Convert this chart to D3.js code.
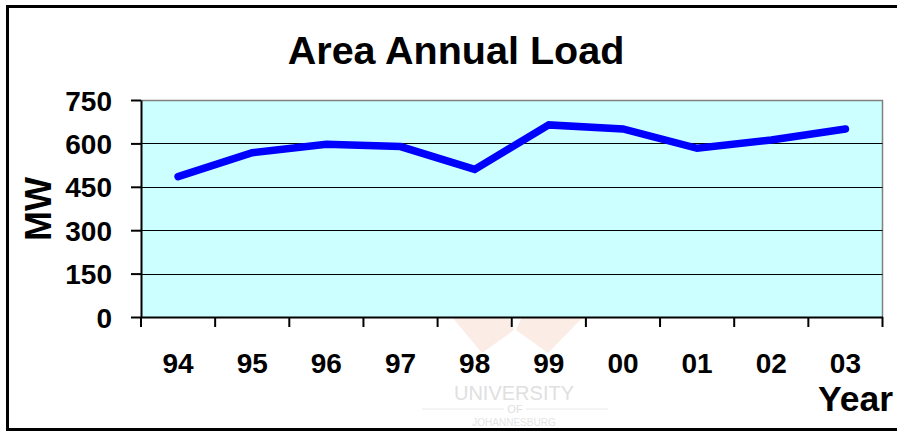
<!DOCTYPE html>
<html>
<head>
<meta charset="utf-8">
<script src="https://cdn.jsdelivr.net/npm/d3@7"></script>
<style>
  html, body { margin: 0; padding: 0; background: #fff; }
  svg { display: block; }
  text { font-family: "Liberation Sans", Arial, sans-serif; }
</style>
</head>
<body>
<svg id="chart" width="897" height="432"></svg>
<script>
const categories = ["94", "95", "96", "97", "98", "99", "00", "01", "02", "03"];
const loadMW = [485, 568, 597, 589, 510, 664, 650, 583, 612, 650];
const yTicks = [0, 150, 300, 450, 600, 750];
const gridValues = [150, 300, 450, 600];
const titleText = "Area Annual Load";
const yAxisTitle = "MW";
const xAxisTitle = "Year";

const svg = d3.select("#chart");
const W = 897, H = 432;
const plot = { left: 141, right: 882.5, top: 100, bottom: 317 };

svg.append("rect").attr("width", W).attr("height", H).attr("fill", "#fff");

// watermark (faint)
const wm = svg.append("g").attr("class", "watermark");
wm.append("path").attr("d", "M452,317 L508,317 L514,330 L482,353 Z").attr("fill", "#fbece5");
wm.append("path").attr("d", "M583,317 L522,317 L516,330 L548,353 Z").attr("fill", "#fbece5");
wm.append("text").attr("x", 514).attr("y", 400).attr("text-anchor", "middle")
  .attr("font-size", 20).attr("fill", "#e0e0e0").text("UNIVERSITY");
wm.append("line").attr("x1", 422).attr("x2", 504).attr("y1", 409).attr("y2", 409).attr("stroke", "#e8e8e8");
wm.append("line").attr("x1", 526).attr("x2", 608).attr("y1", 409).attr("y2", 409).attr("stroke", "#e8e8e8");
wm.append("text").attr("x", 515).attr("y", 413).attr("text-anchor", "middle")
  .attr("font-size", 11).attr("fill", "#e0e0e0").text("OF");
wm.append("text").attr("x", 514).attr("y", 426).attr("text-anchor", "middle")
  .attr("font-size", 10).attr("fill", "#e4e4e4").text("JOHANNESBURG");

// outer border
svg.append("rect").attr("x", 7.5).attr("y", 6.5).attr("width", 920).attr("height", 423)
  .attr("fill", "none").attr("stroke", "#000").attr("stroke-width", 3);

const x = d3.scaleBand().domain(categories).range([plot.left, plot.right]);
const y = d3.scaleLinear().domain([0, 750]).range([plot.bottom, plot.top]);

// plot area
svg.append("rect").attr("x", plot.left).attr("y", plot.top)
  .attr("width", plot.right - plot.left).attr("height", plot.bottom - plot.top)
  .attr("fill", "#CCFFFF");
// gray top/right border
svg.append("path")
  .attr("d", `M${plot.left},${plot.top + 0.5}H${plot.right}V${plot.bottom}`)
  .attr("fill", "none").attr("stroke", "#808080").attr("stroke-width", 1.5);

// gridlines
svg.append("g").selectAll("line").data(gridValues).join("line")
  .attr("x1", plot.left).attr("x2", plot.right)
  .attr("y1", d => Math.round(y(d)) + 0.5).attr("y2", d => Math.round(y(d)) + 0.5)
  .attr("stroke", "#000").attr("stroke-width", 1);

// y axis
const yAxis = svg.append("g").attr("transform", `translate(${plot.left},0)`)
  .call(d3.axisLeft(y).tickValues(yTicks).tickSize(10).tickPadding(19).tickSizeOuter(0));
yAxis.select(".domain").attr("stroke", "#000").attr("stroke-width", 2);
yAxis.selectAll(".tick line").attr("stroke", "#000").attr("stroke-width", 2);
yAxis.selectAll(".tick text").attr("font-size", 28).attr("font-weight", "bold")
  .attr("font-family", "Liberation Sans, Arial, sans-serif").attr("fill", "#000").attr("dy", "0.36em");

// x axis
const xAxis = svg.append("g").attr("transform", `translate(0,${plot.bottom})`)
  .call(d3.axisBottom(x).tickSize(0).tickPadding(0).tickSizeOuter(0));
xAxis.select(".domain").attr("stroke", "#000").attr("stroke-width", 2);
xAxis.selectAll(".tick text").attr("font-size", 28).attr("font-weight", "bold")
  .attr("font-family", "Liberation Sans, Arial, sans-serif").attr("fill", "#000")
  .attr("y", 56).attr("dy", 0);
// tick marks at category boundaries
const boundaries = categories.map(c => x(c)).concat([x(categories[categories.length - 1]) + x.bandwidth()]);
xAxis.append("g").selectAll("line").data(boundaries).join("line")
  .attr("x1", d => d).attr("x2", d => d).attr("y1", 0).attr("y2", 10)
  .attr("stroke", "#000").attr("stroke-width", 2);

// line
const line = d3.line()
  .x((d, i) => x(categories[i]) + x.bandwidth() / 2)
  .y(d => y(d));
svg.append("path").datum(loadMW).attr("d", line)
  .attr("fill", "none").attr("stroke", "#0000FF").attr("stroke-width", 7.5)
  .attr("stroke-linecap", "round").attr("stroke-linejoin", "miter");

// titles
svg.append("text").attr("x", 456).attr("y", 64).attr("text-anchor", "middle")
  .attr("font-size", 39.5).attr("font-weight", "bold").text(titleText);
svg.append("text").attr("transform", "translate(51,209) rotate(-90)").attr("text-anchor", "middle")
  .attr("font-size", 36).attr("font-weight", "bold").text(yAxisTitle);
svg.append("text").attr("x", 818).attr("y", 411)
  .attr("font-size", 35.5).attr("font-weight", "bold").text(xAxisTitle);
</script>
</body>
</html>
